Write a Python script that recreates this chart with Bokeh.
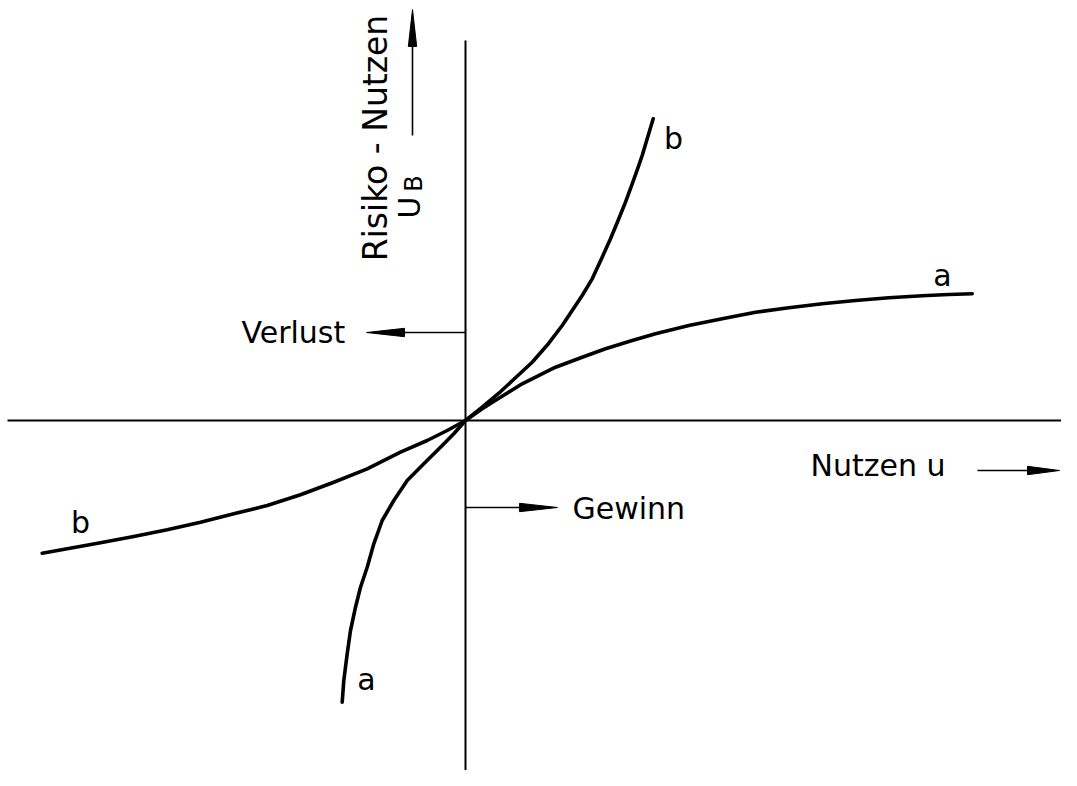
import math
from bokeh.plotting import figure
from bokeh.models import Range1d
from bokeh.core.properties import value
from bokeh.embed import file_html
from bokeh.resources import INLINE

# ---- data (Nutzen u  vs. Risiko-Nutzen U_B) ----
curve_a_u = [-1.233, -1.217, -1.183, -1.15, -1.10, -1.05, -0.983, -0.917, -0.833, -0.717,
             -0.583, -0.417, -0.25, -0.117, 0.0,
             0.167, 0.333, 0.567, 0.90, 1.167, 1.40, 1.667, 1.90, 2.233, 2.567,
             2.90, 3.233, 3.567, 3.90, 4.233, 4.567, 4.833, 5.067]
curve_a_ub = [-2.817, -2.60, -2.333, -2.10, -1.867, -1.667, -1.467, -1.233, -1.00, -0.80,
              -0.60, -0.433, -0.267, -0.133, 0.0,
              0.117, 0.223, 0.367, 0.533, 0.633, 0.717, 0.80, 0.867, 0.95, 1.017,
              1.083, 1.127, 1.167, 1.20, 1.227, 1.247, 1.26, 1.267]
curve_b_u = [-4.233, -3.983, -3.65, -3.317, -2.983, -2.65, -2.317, -1.983, -1.65, -1.317,
             -0.983, -0.65, -0.383, -0.183, 0.0,
             0.167, 0.333, 0.50, 0.667, 0.833, 0.967, 1.067, 1.167, 1.267, 1.367,
             1.45, 1.533, 1.60, 1.667, 1.727, 1.767, 1.817, 1.877]
curve_b_ub = [-1.327, -1.283, -1.223, -1.16, -1.093, -1.017, -0.933, -0.85, -0.743, -0.617,
              -0.483, -0.317, -0.20, -0.10, 0.0,
              0.133, 0.273, 0.427, 0.583, 0.773, 0.95, 1.10, 1.25, 1.417, 1.633,
              1.817, 2.017, 2.183, 2.367, 2.533, 2.65, 2.817, 3.017]

curve_labels = ["b", "a", "b", "a"]
curve_label_u = [2.08, 4.77, -3.85, -0.99]
curve_label_ub = [2.82, 1.45, -1.02, -2.59]

x_label = "Nutzen  u"
y_label = "Risiko - Nutzen"
loss_label = "Verlust"
gain_label = "Gewinn"

FONT = value("DejaVu Sans")

X0, X1 = -4.65, 5.96
Y0, Y1 = -3.50, 4.20

p = figure(width=1061, height=770, x_range=Range1d(X0, X1), y_range=Range1d(Y0, Y1),
           output_backend="svg", toolbar_location=None, min_border=0,
           x_axis_type=None, y_axis_type=None)
p.grid.visible = False
p.outline_line_color = None
p.background_fill_color = "white"
p.border_fill_color = "white"

# coordinate axes through the origin
p.line([-4.58, X1], [0, 0], line_color="black", line_width=2)
p.line([0, 0], [3.80, Y0], line_color="black", line_width=2)


def arrow(xs, ys, xe, ye, head_len=0.38, half_w=0.042):
    dx, dy = xe - xs, ye - ys
    L = math.hypot(dx, dy)
    ux, uy = dx / L, dy / L
    bx, by = xe - ux * head_len, ye - uy * head_len
    p.line([xs, bx], [ys, by], line_color="black", line_width=1.6)
    nx, ny = -uy * half_w, ux * half_w
    p.patch([xe, bx + nx, bx - nx], [ye, by + ny, by - ny],
            fill_color="black", line_color="black", line_width=1)


# Verlust / Gewinn markers on the vertical axis
arrow(0, 0.88, -0.99, 0.88)
arrow(0, -0.87, 0.92, -0.87)
# axis title arrows
arrow(5.12, -0.50, 5.94, -0.50, head_len=0.32)
arrow(-0.53, 2.85, -0.53, 4.11, head_len=0.37)

# curves
p.line(curve_a_u, curve_a_ub, line_color="black", line_width=3.6,
       line_join="round", line_cap="round")
p.line(curve_b_u, curve_b_ub, line_color="black", line_width=3.6,
       line_join="round", line_cap="round")

# curve labels
p.text(curve_label_u, curve_label_ub, text=curve_labels, text_font=FONT,
       text_font_size="30px", text_align="center", text_baseline="middle",
       text_color="black")

# texts
p.text([-2.24], [0.88], text=[loss_label], text_font=FONT, text_font_size="30px",
       text_align="left", text_baseline="middle", text_color="black")
p.text([1.07], [-0.88], text=[gain_label], text_font=FONT, text_font_size="30px",
       text_align="left", text_baseline="middle", text_color="black")
p.text([3.45], [-0.45], text=[x_label], text_font=FONT, text_font_size="30px",
       text_align="left", text_baseline="middle", text_color="black")
p.text([-0.90], [2.825], text=[y_label], text_font=FONT, text_font_size="33px",
       angle=math.pi / 2, text_align="center", text_baseline="middle", text_color="black")
p.text([-0.56], [2.13], text=["U"], text_font=FONT, text_font_size="30px",
       angle=math.pi / 2, text_align="center", text_baseline="middle", text_color="black")
p.text([-0.52], [2.37], text=["B"], text_font=FONT, text_font_size="24px",
       angle=math.pi / 2, text_align="center", text_baseline="middle", text_color="black")

open("out.html", "w").write(file_html(p, INLINE))
